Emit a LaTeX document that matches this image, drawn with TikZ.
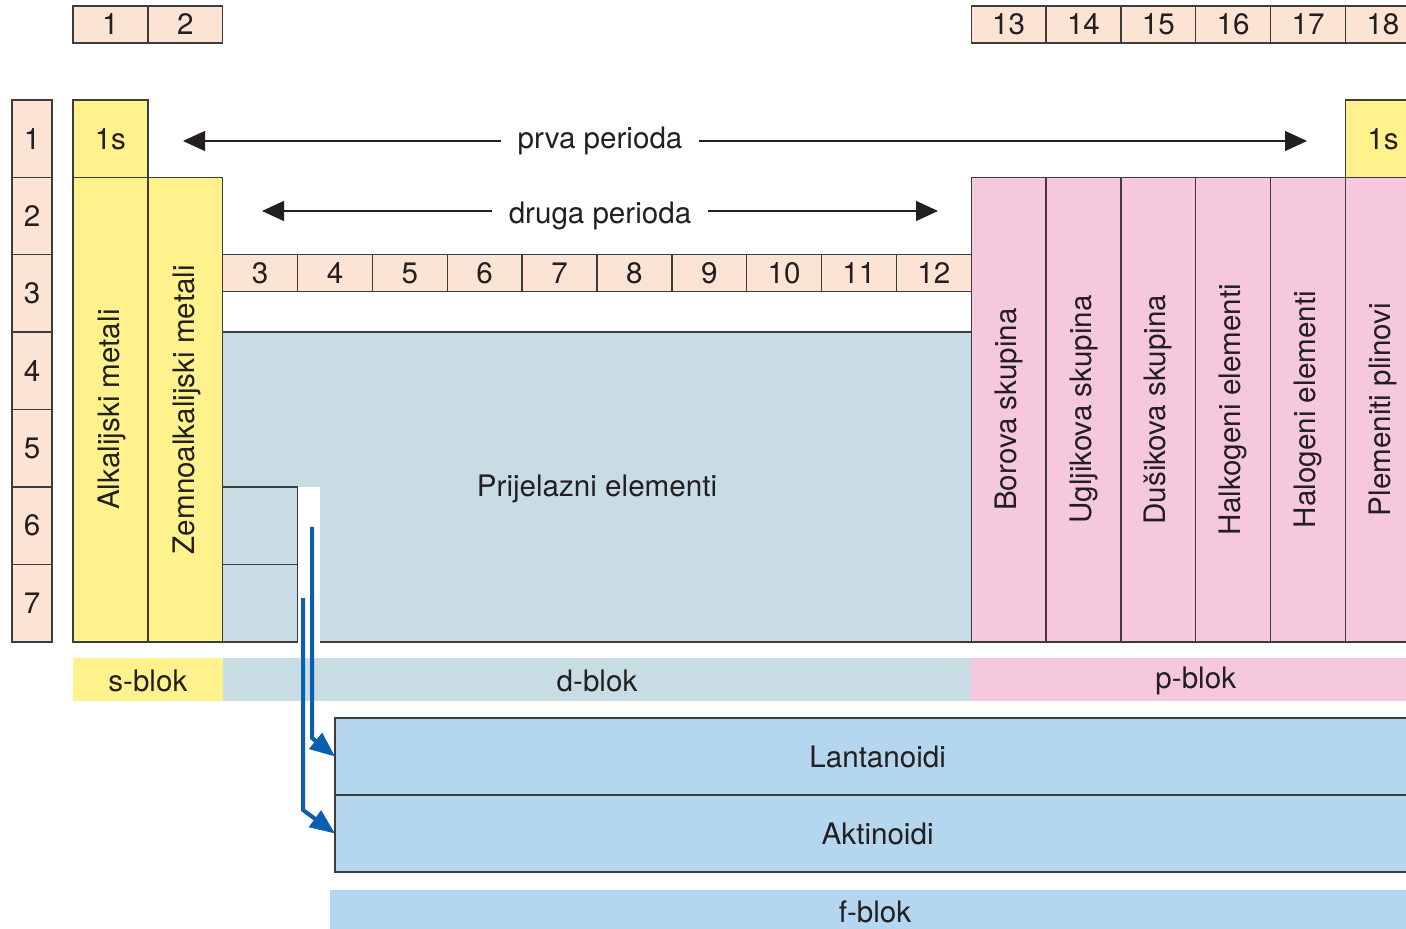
\documentclass[tikz,border=0pt]{standalone}
\usepackage{fontspec}
\setmainfont{TeX Gyre Heros}
\usetikzlibrary{arrows.meta}
\definecolor{numcol}{RGB}{252,228,212}
\definecolor{scol}{RGB}{255,242,140}
\definecolor{dcol}{RGB}{200,221,227}
\definecolor{pcol}{RGB}{246,200,221}
\definecolor{fcol}{RGB}{180,214,239}
\definecolor{arrcol}{RGB}{12,94,176}
\definecolor{edge}{RGB}{60,60,60}
\definecolor{txt}{RGB}{35,31,32}
\tikzset{
  cell/.style={draw=edge,line width=0.7pt},
  lbl/.style={font=\fontsize{14.8}{17}\selectfont,text=txt,inner sep=0pt},
  vlbl/.style={lbl,rotate=90},
  perlbl/.style={lbl,inner xsep=8pt},
  fbox/.style={cell,lbl,fill=fcol,anchor=north west,outer sep=0pt,
    minimum width=542.65pt,minimum height=38.5pt},
  bigarrow/.style={-{Triangle[length=11pt,width=10pt]},line width=0.6pt,txt},
  farrow/.style={arrcol,line width=2pt,-{Triangle[length=12.5pt,width=10pt]}}
}
\begin{document}
\begin{tikzpicture}[x=0.5pt,y=-0.5pt]
\path[use as bounding box] (0,0) rectangle (1406,929);
\clip (0,0) rectangle (1406,929);
\foreach \g in {1,2,13,14,15,16,17,18}{
  \draw[cell,fill=numcol] ({73+(\g-1)*74.85},6) rectangle ++(74.85,37);
  \node[lbl] (g\g) at ({73+(\g-0.5)*74.85},24.5) {\g};}
\foreach \r in {1,...,7}{
  \draw[cell,fill=numcol] (12,{100+(\r-1)*77.4}) rectangle ++(40,77.4);
  \node[lbl] (per\r) at (32,{100+(\r-0.5)*77.4}) {\r};}
\foreach \g in {3,...,12}{
  \draw[cell,fill=numcol] ({73+(\g-1)*74.85},254.8) rectangle ++(74.85,37);
  \node[lbl] (g\g) at ({73+(\g-0.5)*74.85},273.3) {\g};}
\draw[cell,fill=scol] (73,100) rectangle (147.85,177.4);
\node[lbl] (s1s) at (110.4,139) {1s};
\draw[cell,fill=scol] (73,177.4) rectangle (147.85,641.8);
\draw[cell,fill=scol] (147.85,177.4) rectangle (222.7,641.8);
\node[vlbl] (alk) at (111.5,409.6) {Alkalijski metali};
\node[vlbl] (zem) at (186.5,409.6) {Zemnoalkalijski metali};
\fill[dcol] (222.7,332.2) rectangle (971.2,641.8);
\fill[white] (297.55,487) rectangle (320,641.8);
\draw[cell] (222.7,332.2) -- (971.2,332.2) (320,641.8) -- (971.2,641.8);
\draw[cell] (222.7,487) rectangle (297.55,564.4) (222.7,564.4) rectangle (297.55,641.8);
\node[lbl] (prijel) at (597,489) {Prijelazni elementi};
\foreach \g/\t in {13/Borova skupina,14/Ugljikova skupina,15/Dušikova skupina,
  16/Halkogeni elementi,17/Halogeni elementi,18/Plemeniti plinovi}{
  \draw[cell,fill=pcol] ({73+(\g-1)*74.85},177.4) rectangle ++(74.85,464.4);
  \node[vlbl] (grp\g) at ({73+(\g-0.5)*74.85},409.6) {\t};}
\draw[cell,fill=scol] (1345.45,100) rectangle (1420.3,177.4);
\node[lbl] (h1s) at (1382.9,139) {1s};
\node[perlbl] (prva) at (600,141) {prva perioda};
\coordinate (prvaL) at (183,141);
\coordinate (prvaR) at (1307,141);
\draw[bigarrow] (prva) -- (prvaL);
\draw[bigarrow] (prva) -- (prvaR);
\node[perlbl] (druga) at (600,216) {druga perioda};
\coordinate (drugaL) at (262,211);
\coordinate (drugaR) at (938,211);
\draw[bigarrow] (druga.west |- drugaL) -- (drugaL);
\draw[bigarrow] (druga.east |- drugaR) -- (drugaR);
\fill[scol] (73,658) rectangle (222.7,701);
\fill[dcol] (222.7,658) rectangle (971.2,701);
\fill[pcol] (971.2,658) rectangle (1420.3,701);
\node[lbl] (sblok) at (147.85,681) {s-blok};
\node[lbl] (dblok) at (597,681) {d-blok};
\node[lbl] (pblok) at (1195.75,681) {p-blok};
\node[fbox] (lant) at (335,718) {Lantanoidi};
\node[fbox] (akt) at (335,795) {Aktinoidi};
\fill[fcol] (330,890) rectangle (1420.3,935);
\node[lbl] (fblok) at (875,912) {f-blok};
\coordinate (la) at (312,527);
\coordinate (ac) at (303,598);
\draw[farrow] (la) -- (312,738) -- (lant.west);
\draw[farrow] (ac) -- (303,810) -- (akt.west);
\end{tikzpicture}
\end{document}
